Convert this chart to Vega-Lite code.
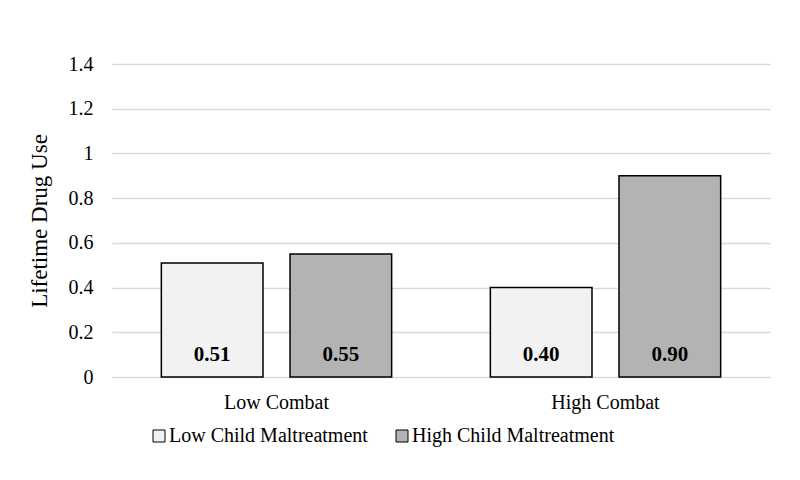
{
  "$schema": "https://vega.github.io/schema/vega-lite/v6.json",
  "width": 658,
  "height": 313,
  "autosize": {"type": "none"},
  "padding": {"left": 112, "top": 64, "right": 30, "bottom": 103},
  "background": "white",
  "config": {
    "font": "Liberation Serif",
    "view": {"stroke": null},
    "axis": {"labelFont": "Liberation Serif", "titleFont": "Liberation Serif", "labelColor": "black", "titleColor": "black"},
    "legend": {"labelFont": "Liberation Serif"}
  },
  "data": {
    "values": [
      {"Combat": "Low Combat", "Maltreatment": "Low Child Maltreatment", "value": 0.51},
      {"Combat": "Low Combat", "Maltreatment": "High Child Maltreatment", "value": 0.55},
      {"Combat": "High Combat", "Maltreatment": "Low Child Maltreatment", "value": 0.40},
      {"Combat": "High Combat", "Maltreatment": "High Child Maltreatment", "value": 0.90}
    ]
  },
  "encoding": {
    "x": {
      "field": "Combat",
      "type": "nominal",
      "sort": ["Low Combat", "High Combat"],
      "scale": {"paddingInner": 0.3, "paddingOuter": 0.15},
      "axis": {"title": null, "labelAngle": 0, "labelFontSize": 20, "labelPadding": 15, "ticks": false, "domain": false}
    },
    "xOffset": {
      "field": "Maltreatment",
      "type": "nominal",
      "sort": ["Low Child Maltreatment", "High Child Maltreatment"],
      "scale": {"paddingInner": 0.21, "paddingOuter": 0}
    }
  },
  "layer": [
    {
      "mark": {"type": "bar", "stroke": "black", "strokeWidth": 1.5},
      "encoding": {
        "y": {
          "field": "value",
          "type": "quantitative",
          "scale": {"domain": [0, 1.4]},
          "axis": {
            "title": "Lifetime Drug Use",
            "titleFontSize": 23,
            "titleFontWeight": "normal",
            "titlePadding": 17,
            "values": [0, 0.2, 0.4, 0.6, 0.8, 1, 1.2, 1.4],
            "format": "~g",
            "labelFontSize": 20,
            "labelPadding": 19,
            "ticks": false,
            "domain": false,
            "gridColor": "#d9d9d9",
            "gridWidth": 1.5
          }
        },
        "fill": {
          "field": "Maltreatment",
          "type": "nominal",
          "sort": ["Low Child Maltreatment", "High Child Maltreatment"],
          "scale": {"domain": ["Low Child Maltreatment", "High Child Maltreatment"], "range": ["#f2f2f2", "#b3b3b3"]},
          "legend": {
            "title": null,
            "orient": "none",
            "legendX": 37,
            "legendY": 362,
            "direction": "horizontal",
            "labelFontSize": 20,
            "labelLimit": 400,
            "labelColor": "black",
            "symbolType": "square",
            "symbolSize": 144,
            "symbolStrokeColor": "black",
            "symbolStrokeWidth": 1,
            "labelOffset": 0,
            "columnPadding": 24
          }
        }
      }
    },
    {
      "mark": {"type": "text", "fontWeight": "bold", "fontSize": 21, "dy": -22, "baseline": "middle", "color": "black"},
      "encoding": {
        "y": {"datum": 0, "type": "quantitative"},
        "text": {"field": "value", "type": "quantitative", "format": ".2f"}
      }
    }
  ]
}
